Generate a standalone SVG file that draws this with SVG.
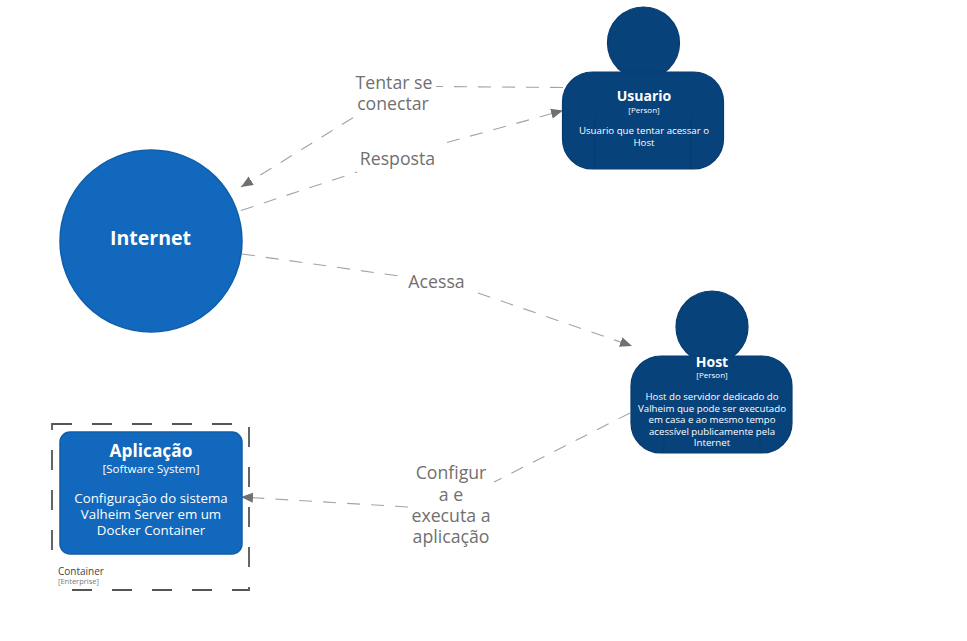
<svg xmlns="http://www.w3.org/2000/svg" width="967" height="641" viewBox="0 0 967 641">
<style>
text{font-family:"Open Sans","Noto Sans",sans-serif;text-anchor:middle;fill:#fff}
.lbl{font-size:17.700px;fill:#707070}
.conn{fill:none;stroke:#a3a3a3;stroke-width:1.1;stroke-dasharray:13 11}
.p{fill:#08427b;stroke:#073b6f;stroke-width:1.2}
.s{fill:#1168bd;stroke:#0f5eaa;stroke-width:1.5}
.in{fill:none;stroke:#073b6f;stroke-width:1}
.t{font-size:14px;font-weight:700}
.k{font-size:8px}
.d{font-size:9.700px}
</style>
<defs><marker id="a" markerUnits="userSpaceOnUse" markerWidth="14" markerHeight="12" refX="12" refY="5" orient="auto"><path d="M0 0L12 5L0 10z" fill="#707070"/></marker></defs>
<rect width="967" height="641" fill="#fff"/>
<g id="connectors">
<path class="conn" d="M563 87.500L436 86.500"/>
<path class="conn" d="M353 117.700L241 187" marker-end="url(#a)"/>
<path class="conn" d="M241 210.500L357 172"/>
<path class="conn" d="M447 142.500L563 110.500" marker-end="url(#a)"/>
<path class="conn" d="M242 254L399 276"/>
<path class="conn" d="M478 293L632 346" marker-end="url(#a)"/>
<path class="conn" d="M630 413L494 482"/>
<path class="conn" d="M408 507L241 497" marker-end="url(#a)"/>
</g>
<g id="label-tentar"><text class="lbl" x="394" y="89">Tentar se</text><text class="lbl" x="393" y="110">conectar</text></g>
<g id="label-resposta"><text class="lbl" x="397.500" y="165">Resposta</text></g>
<g id="label-acessa"><text class="lbl" x="436.500" y="288">Acessa</text></g>
<g id="label-configura"><text class="lbl" x="451" y="479">Configur</text><text class="lbl" x="451" y="501">a e</text><text class="lbl" x="451" y="522">executa a</text><text class="lbl" x="451" y="543">aplicação</text></g>
<g id="internet"><circle class="s" cx="151" cy="241" r="91"/><text x="150.500" y="244.500" font-size="19.500" font-weight="700">Internet</text></g>
<g id="usuario">
<circle class="p" cx="643.500" cy="43" r="36"/>
<rect class="p" x="562.500" y="72" width="161" height="97" rx="30"/>
<path class="in" d="M595 115V169M691 115V169"/>
<text class="t" x="644" y="101">Usuario</text><text class="k" x="644" y="113">[Person]</text>
<text class="d" x="644" y="134">Usuario que tentar acessar o</text><text class="d" x="644" y="146">Host</text>
</g>
<g id="host">
<circle class="p" cx="712" cy="327" r="36"/>
<rect class="p" x="631" y="356" width="161" height="97" rx="30"/>
<path class="in" d="M664 420V453M760 420V453"/>
<text class="t" x="712" y="367">Host</text><text class="k" x="712" y="378">[Person]</text>
<text class="d" x="712" y="400">Host do servidor dedicado do</text><text class="d" x="712" y="411.500">Valheim que pode ser executado</text><text class="d" x="712" y="423">em casa e ao mesmo tempo</text><text class="d" x="712" y="434.500">acessível publicamente pela</text><text class="d" x="712" y="446">Internet</text>
</g>
<g id="aplicacao">
<rect class="s" x="60" y="432" width="182" height="122" rx="10"/>
<text x="151" y="457" font-size="17.300" font-weight="700">Aplicação</text><text x="151" y="473" font-size="11.500">[Software System]</text>
<text x="151" y="503" font-size="13.300">Configuração do sistema</text><text x="151" y="519" font-size="13.300">Valheim Server em um</text><text x="151" y="535" font-size="13.300">Docker Container</text>
</g>
<g id="container">
<path d="M52 424H249V590H52Z" fill="none" stroke="#555" stroke-width="1.800" stroke-dasharray="20 20"/>
<rect x="50" y="560" width="20" height="33" fill="#fff"/>
<text x="58" y="575" font-size="10" style="text-anchor:start;fill:#444">Container</text>
<text x="58" y="584" font-size="7.500" style="text-anchor:start;fill:#777">[Enterprise]</text>
</g>
</svg>
